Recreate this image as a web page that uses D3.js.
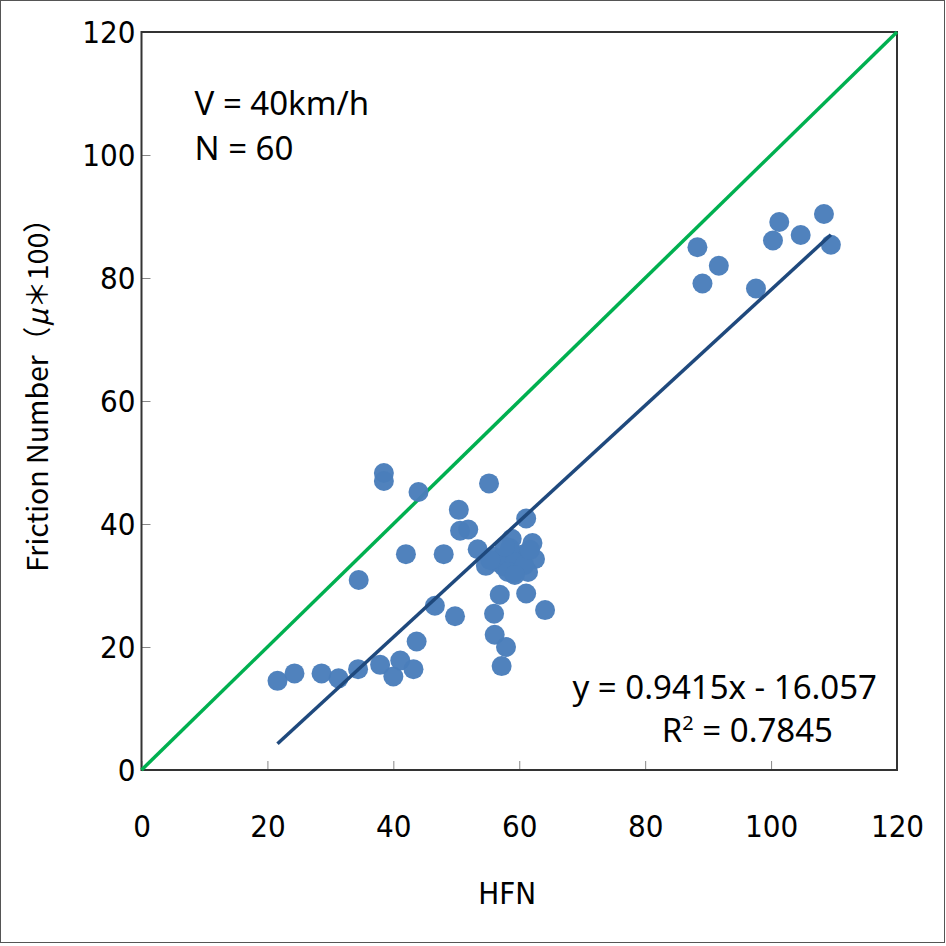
<!DOCTYPE html>
<html>
<head>
<meta charset="utf-8">
<script src="https://cdn.jsdelivr.net/npm/d3@7"></script>
<style>
  body { margin: 0; background: #fff; }
  .tick text { font-family: "Liberation Sans Narrow", "DejaVu Sans Condensed", sans-serif; font-size: 31px; fill: #000; }
</style>
</head>
<body>
<div id="chart_div"></div>
<script>
// HFN vs friction number, V = 40km/h
const hfn = [21.6, 24.3, 28.6, 31.3, 34.4, 37.9, 40.0, 41.1, 43.2, 43.7,
  34.5, 38.5, 38.5, 42.0, 44.0, 46.6, 48.0, 49.8, 50.4, 50.6,
  51.9, 55.2, 61.1, 58.8, 62.1, 53.4, 56.9, 54.7, 62.5, 59.8,
  59.1, 61.4, 56.9, 61.1, 64.1, 56.0, 56.1, 57.9, 57.2,
  88.3, 91.7, 89.1, 97.6, 101.3, 100.3, 104.7, 108.4, 109.5,
  55.8, 57.5, 60.4, 58.5, 56.5, 59.3, 58.2, 57.7, 60.8, 55.4, 61.7, 59.3];
const fn = [14.5, 15.7, 15.7, 14.9, 16.4, 17.1, 15.2, 17.8, 16.4, 20.9,
  30.9, 48.3, 47.0, 35.1, 45.2, 26.7, 35.1, 25.0, 42.3, 38.9,
  39.1, 46.6, 40.9, 37.6, 36.9, 35.9, 34.4, 33.2, 34.3, 34.7,
  32.0, 32.2, 28.5, 28.7, 26.0, 25.4, 22.0, 20.0, 16.9,
  85.0, 82.0, 79.1, 78.3, 89.1, 86.1, 87.0, 90.4, 85.4,
  34.7, 33.1, 35.0, 36.1, 33.8, 33.8, 32.2, 36.3, 33.3, 34.1, 35.8, 31.7];
const trend_slope = 0.9415, trend_intercept = -16.057;
const axis_ticks = [0, 20, 40, 60, 80, 100, 120];
const notes = ["V = 40km/h", "N = 60"];
const trend_labels = ["y = 0.9415x - 16.057", "0.7845"];

const width = 946, height = 946;
const margin = {top: 32, right: 49, bottom: 176, left: 141.5};
const plot_w = width - margin.left - margin.right,
      plot_h = height - margin.top - margin.bottom;

const svg = d3.select("#chart_div").append("svg")
    .attr("width", width).attr("height", height);

// outer frame
svg.append("rect").attr("x", 0.5).attr("y", 0.5)
  .attr("width", width - 2).attr("height", height - 4)
  .attr("fill", "none").attr("stroke", "#555").attr("stroke-width", 1);

const g = svg.append("g").attr("transform", `translate(${margin.left}, ${margin.top})`);

const x = d3.scaleLinear().domain([0, 120]).range([0, plot_w]);
const y = d3.scaleLinear().domain([0, 120]).range([plot_h, 0]);

// axes, ticks inside
const xAxis = g.append("g").attr("transform", `translate(0, ${plot_h})`)
  .call(d3.axisBottom(x).tickValues(axis_ticks).tickSizeInner(-9).tickSizeOuter(0).tickPadding(45));
const yAxis = g.append("g")
  .call(d3.axisLeft(y).tickValues(axis_ticks).tickSizeInner(-9).tickSizeOuter(0).tickPadding(6));
[xAxis, yAxis].forEach(a => {
  a.select(".domain").remove();
  a.selectAll(".tick line").attr("stroke", "#888").attr("stroke-width", 1);
});
yAxis.selectAll(".tick text").attr("dy", "0.35em");

// plot border
g.append("rect").attr("width", plot_w).attr("height", plot_h)
  .attr("fill", "none").attr("stroke", "#333").attr("stroke-width", 2);

// 1:1 line
g.append("line")
  .attr("x1", x(0)).attr("y1", y(0)).attr("x2", x(120)).attr("y2", y(120))
  .attr("stroke", "#00b050").attr("stroke-width", 3.5);

// points
const pts = hfn.map((v, i) => ({x: v, y: fn[i]}));
g.append("g").selectAll("circle").data(pts).join("circle")
  .attr("cx", d => x(d.x)).attr("cy", d => y(d.y)).attr("r", 10)
  .attr("fill", "#4a7ebb").attr("fill-opacity", 0.97);

// linear trend line
const xmin = d3.min(hfn), xmax = d3.max(hfn);
g.append("line")
  .attr("x1", x(xmin)).attr("y1", y(trend_slope * xmin + trend_intercept))
  .attr("x2", x(xmax)).attr("y2", y(trend_slope * xmax + trend_intercept))
  .attr("stroke", "#1f497d").attr("stroke-width", 3.5);

// annotations
const note_font = "'Noto Sans', 'Open Sans', sans-serif";
g.selectAll(".note").data(notes).join("text").attr("class", "note")
  .attr("x", 53).attr("y", (d, i) => 83 + i * 45)
  .style("font-family", note_font).style("font-size", "33px").text(d => d);

g.append("text").attr("x", plot_w - 20).attr("y", 667)
  .attr("text-anchor", "end")
  .style("font-family", note_font).style("font-size", "33px").text(trend_labels[0]);
const r2 = g.append("text").attr("x", plot_w - 64).attr("y", 710)
  .attr("text-anchor", "end")
  .style("font-family", note_font).style("font-size", "33px");
r2.append("tspan").text("R");
r2.append("tspan").attr("dy", -12).style("font-size", "20px").text("2");
r2.append("tspan").attr("dy", 12).text(" = " + trend_labels[1]);

// axis titles
svg.append("text").attr("x", margin.left + plot_w / 2 - 12).attr("y", 904)
  .attr("text-anchor", "middle")
  .style("font-family", "'Liberation Sans Narrow', 'DejaVu Sans Condensed', sans-serif")
  .style("font-size", "31px").text("HFN");

const ytitle = svg.append("text")
  .attr("transform", `translate(48, 388) rotate(-90)`)
  .attr("text-anchor", "middle")
  .style("font-family", "'Noto Sans CJK JP', 'Noto Sans', sans-serif")
  .style("font-size", "28.5px");
ytitle.append("tspan").text("Friction Number（");
ytitle.append("tspan").style("font-style", "italic").text("μ");
ytitle.append("tspan").text("＊100）");
</script>
</body>
</html>
